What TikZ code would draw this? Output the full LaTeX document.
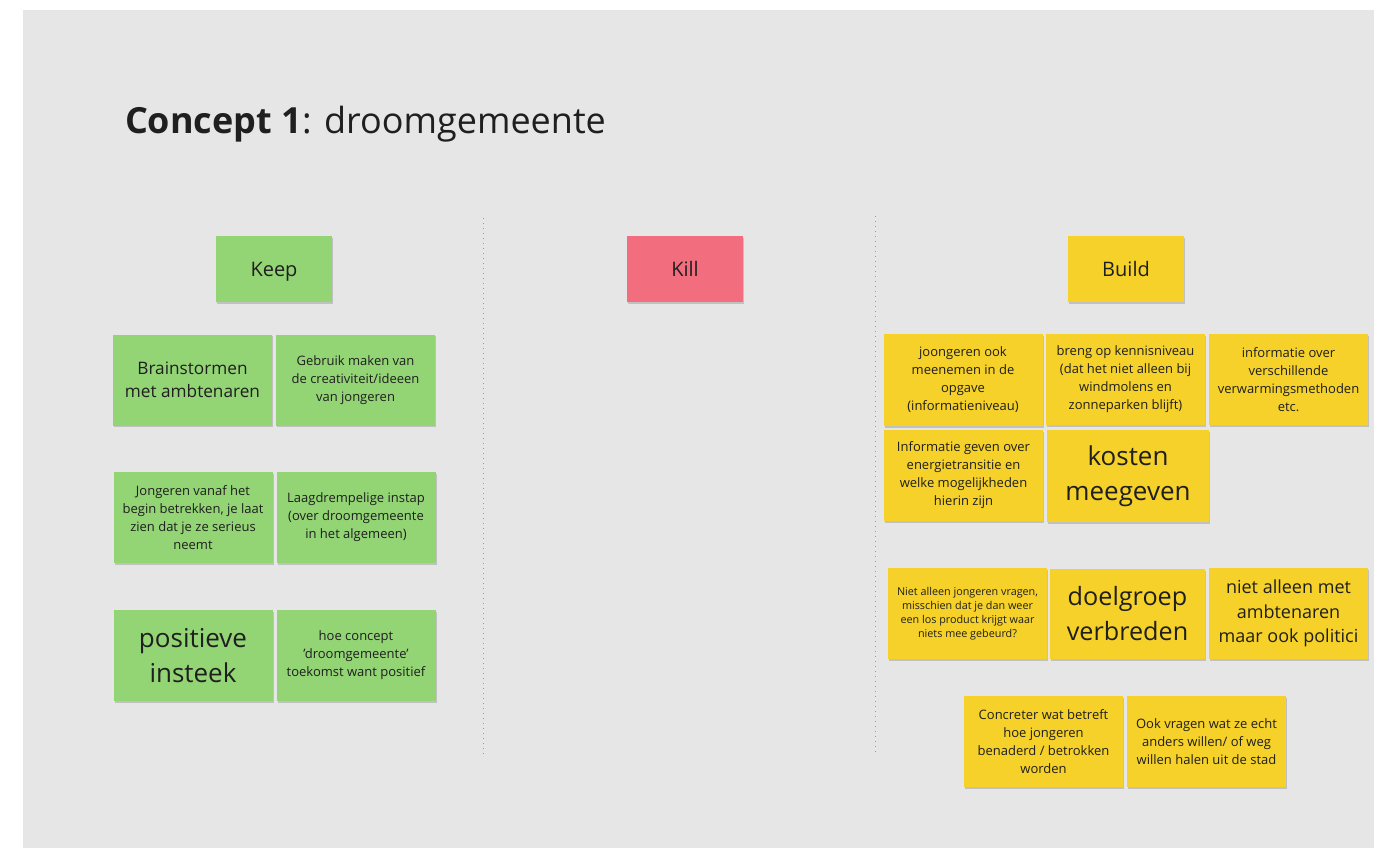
\documentclass[tikz,border=0pt]{standalone}
\usepackage{fontspec}
\setmainfont{Open Sans}
\usetikzlibrary{shadows}
\definecolor{board}{HTML}{E6E6E6}
\definecolor{keepg}{HTML}{93D475}
\definecolor{killr}{HTML}{F26D7D}
\definecolor{buildy}{HTML}{F5D12A}
\definecolor{ink}{HTML}{1F1F1F}
\definecolor{divider}{HTML}{9A9A9A}
\begin{document}
\begin{tikzpicture}[x=0.5pt,y=-0.5pt,
  sticky/.style={rectangle, inner sep=0pt, align=center, text=ink,
    drop shadow={shadow xshift=0.6pt, shadow yshift=-0.9pt, opacity=0.16, fill=black}},
  head/.style={sticky, minimum width=58pt, minimum height=33pt, text depth=0pt, font=\fontsize{10}{12}\selectfont},
  green/.style={sticky, fill=keepg},
  yellow/.style={sticky, fill=buildy},
  sz/.style={minimum width=79.5pt, minimum height=45.5pt},
  fsmall/.style={font=\fontsize{6.5}{9}\selectfont},
  ftiny/.style={font=\fontsize{5.4}{7}\selectfont},
  fmid/.style={font=\fontsize{8.6}{11.6}\selectfont},
  fmid2/.style={font=\fontsize{9}{12.3}\selectfont},
  fbig/.style={font=\fontsize{13}{17.7}\selectfont},
  divline/.style={draw=divider, line width=0.5pt, dotted}]
\useasboundingbox (0,0) rectangle (1385,848);
\fill[board] (23,10) rectangle (1374,848);

\node[anchor=base west, text=ink, font=\fontsize{18}{22}\selectfont] (title) at (118,133)
  {\textbf{Concept 1}: droomgemeente};

\draw[divline] (483,218) -- (483,756);
\draw[divline] (875,216) -- (875,755);

\node[head, fill=keepg] (keep) at (274,269) {Keep};
\node[head, fill=killr] (kill) at (685,269) {Kill};
\node[head, fill=buildy] (build) at (1126,269) {Build};

% Keep notes
\node[green, sz, fmid] (g1) at (192.5,380) {Brainstormen\\met ambtenaren};
\node[green, sz, fsmall] (g2) at (355.5,380) {Gebruik maken van\\de creativiteit/ideeen\\van jongeren};
\node[green, sz, fsmall] (g3) at (193,517.5) {Jongeren vanaf het\\begin betrekken, je laat\\zien dat je ze serieus\\neemt};
\node[green, sz, fsmall] (g4) at (356,517.5) {Laagdrempelige instap\\(over droomgemeente\\in het algemeen)};
\node[green, sz, fbig] (g5) at (193,655.5) {positieve\\insteek};
\node[green, sz, fsmall] (g6) at (356,655.5) {hoe concept\\'droomgemeente'\\toekomst want positief};

% Build notes
\node[yellow, sz, minimum height=46pt, fsmall] (y1) at (963,380) {joongeren ook\\meenemen in de\\opgave\\(informatieniveau)};
\node[yellow, sz, fsmall] (y2) at (1125.5,379.5) {breng op kennisniveau\\(dat het niet alleen bij\\windmolens en\\zonneparken blijft)};
\node[yellow, sz, fsmall] (y3) at (1288.5,379.5) {informatie over\\verschillende\\verwarmingsmethoden\\etc.};
\node[yellow, sz, fsmall] (y4) at (963.5,475.5) {Informatie geven over\\energietransitie en\\welke mogelijkheden\\hierin zijn};
\node[yellow, minimum width=81pt, minimum height=46pt, fbig] (y5) at (1128,476) {kosten\\meegeven};
\node[yellow, sz, ftiny] (y6) at (967.5,613.5) {Niet alleen jongeren vragen,\\misschien dat je dan weer\\een los product krijgt waar\\niets mee gebeurd?};
\node[yellow, minimum width=77.5pt, minimum height=45pt, font=\fontsize{12.6}{17.5}\selectfont] (y7) at (1127.5,614) {doelgroep\\verbreden};
\node[yellow, sz, fmid2] (y8) at (1288.5,613.5) {niet alleen met\\ambtenaren\\maar ook politici};
\node[yellow, sz, fsmall] (y9) at (1043.5,741.5) {Concreter wat betreft\\hoe jongeren\\benaderd / betrokken\\worden};
\node[yellow, sz, fsmall] (y10) at (1206.5,741.5) {Ook vragen wat ze echt\\anders willen/ of weg\\willen halen uit de stad};
\end{tikzpicture}
\end{document}
